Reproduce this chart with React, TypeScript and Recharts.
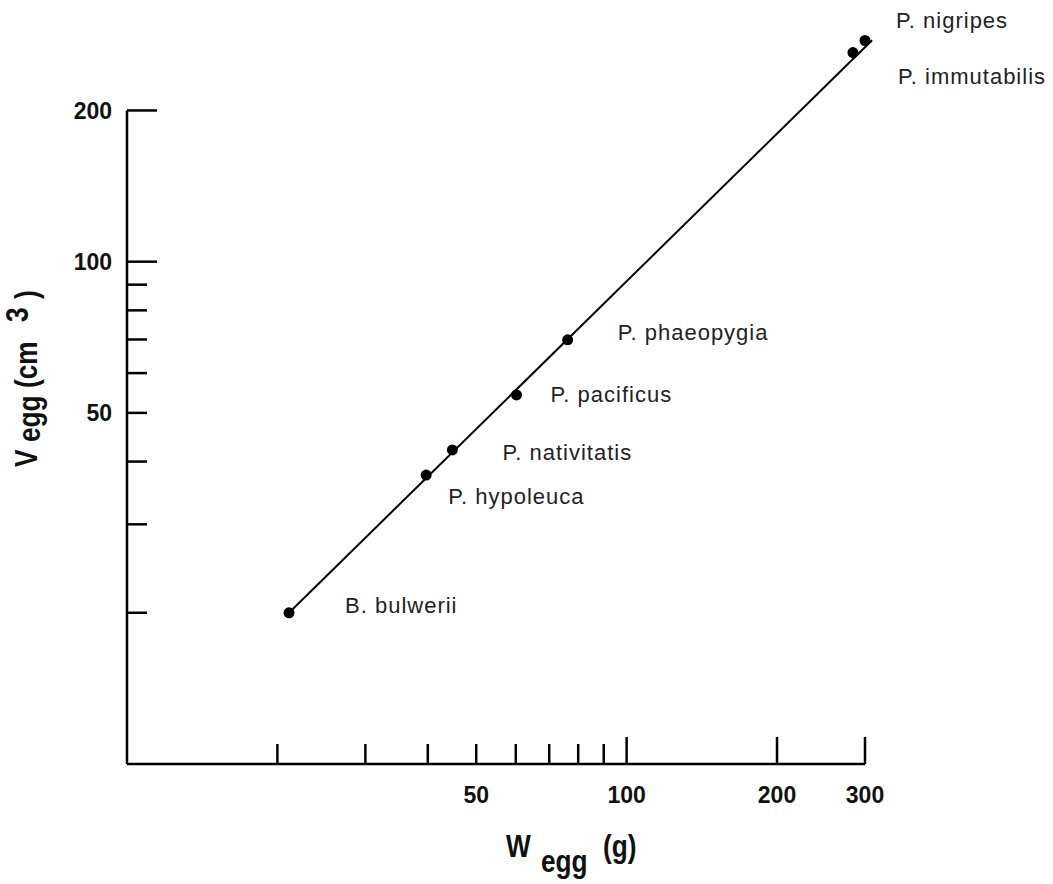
import React from 'react';
import { ScatterChart, Scatter, XAxis, YAxis, ReferenceLine } from 'recharts';

const species = [
  'B. bulwerii',
  'P. hypoleuca',
  'P. nativitatis',
  'P. pacificus',
  'P. phaeopygia',
  'P. immutabilis',
  'P. nigripes',
];
const eggMass = [21.1, 39.7, 44.8, 60.2, 76.2, 283.8, 300];
const eggVolume = [20.0, 37.6, 42.2, 54.3, 69.9, 260.8, 275.6];

// fitted regression line end points (W, V)
const fitMass = [21.1, 310];
const fitVolume = [20.0, 276];

const xTicks = [20, 30, 40, 50, 60, 70, 80, 90, 100, 200, 300];
const xTickLabels = [50, 100, 200, 300];
const xMajorTicks = [100, 200, 300];

const yTicks = [20, 30, 40, 50, 60, 70, 80, 90, 100, 200];
const yTickLabels = [50, 100, 200];
const yMajorTicks = [100, 200];

// where each species name sits relative to its dot
const labelOffsets: Record<string, [number, number]> = {
  'B. bulwerii': [56, -8],
  'P. hypoleuca': [22, 21],
  'P. nativitatis': [50, 2],
  'P. pacificus': [34, -1],
  'P. phaeopygia': [50, -8],
  'P. immutabilis': [45, 24],
  'P. nigripes': [31, -20],
};

const points = species.map((name, i) => ({ name, w: eggMass[i], v: eggVolume[i] }));

const SANS = "'Liberation Sans', Arial, Helvetica, sans-serif";
// no condensed face installed, so squeeze the bold sans horizontally
const SQUEEZE = 'scale(0.82, 1)';

function XTick(props: any) {
  const { x, y, payload } = props;
  const v = payload.value;
  const len = xMajorTicks.includes(v) ? 27 : 20;
  return (
    <g>
      <line x1={x} y1={y} x2={x} y2={y - len} stroke="#000" strokeWidth={2.5} />
      {xTickLabels.includes(v) && (
        <text x={x} y={y + 39} textAnchor="middle" fontFamily={SANS} fontWeight="bold" fontSize={23} fill="#111">
          {v}
        </text>
      )}
    </g>
  );
}

function YTick(props: any) {
  const { x, y, payload } = props;
  const v = payload.value;
  const len = yMajorTicks.includes(v) ? 30 : 20;
  return (
    <g>
      <line x1={x} y1={y} x2={x + len} y2={y} stroke="#000" strokeWidth={2.5} />
      {yTickLabels.includes(v) && (
        <text x={x - 15} y={y} dy="0.36em" textAnchor="end" fontFamily={SANS} fontWeight="bold" fontSize={23} fill="#111">
          {v}
        </text>
      )}
    </g>
  );
}

function PointShape(props: any) {
  const { cx, cy, payload } = props;
  const [dx, dy] = labelOffsets[payload.name] ?? [20, 0];
  return (
    <g>
      <circle cx={cx} cy={cy} r={5.5} fill="#000" />
      <text x={cx + dx} y={cy + dy} dy="0.36em" fontFamily={SANS} fontSize={22} letterSpacing={1} fill="#222">
        {payload.name}
      </text>
    </g>
  );
}

function TitlePiece({ x, y, rotate = 0, size = 32, children }: any) {
  return (
    <text
      transform={`translate(${x}, ${y}) rotate(${rotate}) ${SQUEEZE}`}
      fontFamily={SANS}
      fontWeight="bold"
      fontSize={size}
      fill="#111"
    >
      {children}
    </text>
  );
}

function XTitle() {
  return (
    <g>
      <TitlePiece x={506} y={857}>W</TitlePiece>
      <TitlePiece x={541} y={872}>egg</TitlePiece>
      <TitlePiece x={603} y={857}>(g)</TitlePiece>
    </g>
  );
}

function YTitle() {
  return (
    <g>
      <TitlePiece x={37} y={467} rotate={-90}>V</TitlePiece>
      <TitlePiece x={40} y={442} rotate={-90}>egg</TitlePiece>
      <TitlePiece x={37} y={388} rotate={-90}>(cm</TitlePiece>
      <TitlePiece x={28} y={322} rotate={-90}>3</TitlePiece>
      <TitlePiece x={37} y={299} rotate={-90}>)</TitlePiece>
    </g>
  );
}

export default function App() {
  return (
    <div style={{ position: 'absolute', left: 0, top: 0, background: '#fff' }}>
      <ScatterChart width={1053} height={884} margin={{ top: 22, right: 188, bottom: 60, left: 67 }}>
        <XAxis
          dataKey="w"
          type="number"
          scale="log"
          domain={[10, 300]}
          ticks={xTicks}
          interval={0}
          height={60}
          tickSize={0}
          tickMargin={0}
          tickLine={false}
          axisLine={{ stroke: '#000', strokeWidth: 2.5 }}
          tick={(p: any) => <XTick {...p} />}
          label={<XTitle />}
        />
        <YAxis
          dataKey="v"
          type="number"
          scale="log"
          domain={[10, 300]}
          ticks={yTicks}
          interval={0}
          width={60}
          tickSize={0}
          tickMargin={0}
          tickLine={false}
          axisLine={false}
          tick={(p: any) => <YTick {...p} />}
          label={<YTitle />}
        />
        <ReferenceLine
          segment={[
            { x: 10, y: 10 },
            { x: 10, y: 200 },
          ]}
          stroke="#000"
          strokeWidth={2.5}
          ifOverflow="visible"
        />
        <ReferenceLine
          segment={[
            { x: fitMass[0], y: fitVolume[0] },
            { x: fitMass[1], y: fitVolume[1] },
          ]}
          stroke="#000"
          strokeWidth={2}
          ifOverflow="visible"
        />
        <Scatter data={points} dataKey="v" isAnimationActive={false} shape={(p: any) => <PointShape {...p} />} />
      </ScatterChart>
    </div>
  );
}
